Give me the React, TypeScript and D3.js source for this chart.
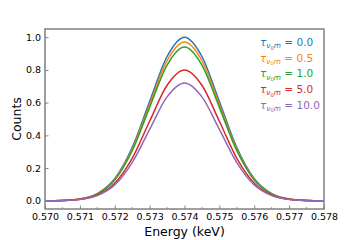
import * as d3 from "d3";
import { useEffect, useRef } from "react";

// energy grid (keV) and counts
const energy = [
  0.570, 0.5705, 0.571, 0.5715, 0.572, 0.5725, 0.573, 0.5735, 0.574,
  0.5745, 0.575, 0.5755, 0.576, 0.5765, 0.577, 0.5775, 0.578,
];
const tau00 = [0.000, 0.002, 0.011, 0.044, 0.135, 0.325, 0.607, 0.882, 1.000, 0.882, 0.607, 0.325, 0.135, 0.044, 0.011, 0.002, 0.000];
const tau05 = [0.000, 0.002, 0.011, 0.043, 0.131, 0.315, 0.589, 0.856, 0.970, 0.856, 0.589, 0.315, 0.131, 0.043, 0.011, 0.002, 0.000];
const tau10 = [0.000, 0.002, 0.010, 0.041, 0.127, 0.306, 0.571, 0.829, 0.940, 0.829, 0.571, 0.306, 0.127, 0.041, 0.010, 0.002, 0.000];
const tau50 = [0.000, 0.002, 0.009, 0.035, 0.108, 0.260, 0.486, 0.706, 0.800, 0.706, 0.486, 0.260, 0.108, 0.035, 0.009, 0.002, 0.000];
const tau100 = [0.000, 0.002, 0.008, 0.032, 0.097, 0.234, 0.437, 0.635, 0.720, 0.635, 0.437, 0.234, 0.097, 0.032, 0.008, 0.002, 0.000];

const tauLabels = ["0.0", "0.5", "1.0", "5.0", "10.0"];
const colors = ["#1f77b4", "#ff7f0e", "#2ca02c", "#d62728", "#9467bd"];
const seriesValues = [tau00, tau05, tau10, tau50, tau100];

const xTicks = [0.570, 0.571, 0.572, 0.573, 0.574, 0.575, 0.576, 0.577, 0.578];
const yTicks = [0.0, 0.2, 0.4, 0.6, 0.8, 1.0];

const W = 360;
const H = 240;
const margin = { top: 29, right: 36, bottom: 31, left: 45 };

export default function App() {
  const ref = useRef<SVGSVGElement>(null);

  useEffect(() => {
    const svg = d3.select(ref.current);
    svg.selectAll("*").remove();

    const x = d3.scaleLinear().domain([0.570, 0.578]).range([margin.left, W - margin.right]);
    const y = d3.scaleLinear().domain([-0.05, 1.05]).range([H - margin.bottom, margin.top]);
    const font = "'DejaVu Sans', sans-serif";
    const spine = "#808080";

    const line = d3
      .line<number>()
      .x((_, i) => x(energy[i]))
      .y((d) => y(d))
      .curve(d3.curveMonotoneX);

    seriesValues.forEach((vals, i) => {
      svg.append("path")
        .attr("d", line(vals))
        .attr("fill", "none")
        .attr("stroke", colors[i])
        .attr("stroke-width", 1.5);
    });

    // bottom axis, ticks inward
    const xAxis = d3.axisBottom(x)
      .tickValues(xTicks)
      .tickSize(-3.5)
      .tickPadding(4.5)
      .tickFormat(d3.format(".3f"));
    const gx = svg.append("g")
      .attr("transform", `translate(0, ${H - margin.bottom})`)
      .call(xAxis);
    gx.select(".domain").remove();
    gx.selectAll("line").attr("stroke", spine).attr("stroke-width", 1);
    gx.selectAll("text").attr("font-family", font).attr("font-size", 9.5).attr("fill", "#000");

    const minor = d3.range(0, 8).map((i) => 0.5705 + i * 0.001);
    svg.append("g")
      .selectAll("line")
      .data(minor)
      .join("line")
      .attr("x1", (d) => x(d))
      .attr("x2", (d) => x(d))
      .attr("y1", H - margin.bottom)
      .attr("y2", H - margin.bottom - 2)
      .attr("stroke", spine)
      .attr("stroke-width", 0.8);

    const yAxis = d3.axisLeft(y)
      .tickValues(yTicks)
      .tickSize(-3.5)
      .tickPadding(4)
      .tickFormat(d3.format(".1f"));
    const gy = svg.append("g")
      .attr("transform", `translate(${margin.left}, 0)`)
      .call(yAxis);
    gy.select(".domain").remove();
    gy.selectAll("line").attr("stroke", spine).attr("stroke-width", 1);
    gy.selectAll("text").attr("font-family", font).attr("font-size", 9.5).attr("fill", "#000");

    // spines
    svg.append("rect")
      .attr("x", margin.left)
      .attr("y", margin.top)
      .attr("width", W - margin.left - margin.right)
      .attr("height", H - margin.top - margin.bottom)
      .attr("fill", "none")
      .attr("stroke", spine)
      .attr("stroke-width", 1.5);

    svg.append("text")
      .attr("x", (margin.left + W - margin.right) / 2)
      .attr("y", 235.5)
      .attr("text-anchor", "middle")
      .attr("font-family", font)
      .attr("font-size", 12.5)
      .text("Energy (keV)");

    svg.append("text")
      .attr("transform", `translate(20.5, ${(margin.top + H - margin.bottom) / 2}) rotate(-90)`)
      .attr("text-anchor", "middle")
      .attr("font-family", font)
      .attr("font-size", 12.5)
      .text("Counts");

    // legend: coloured text only
    tauLabels.forEach((lab, i) => {
      const t = svg.append("text")
        .attr("x", 260)
        .attr("y", 45.8 + i * 15.7)
        .attr("font-family", font)
        .attr("font-size", 10.5)
        .attr("fill", colors[i]);
      t.append("tspan").attr("font-style", "italic").text("τ");
      t.append("tspan").attr("font-style", "italic").attr("font-size", 7.4).attr("dy", 2.5).text("ν");
      t.append("tspan").attr("font-size", 5.2).attr("dy", 1.2).text("0");
      t.append("tspan").attr("font-style", "italic").attr("font-size", 7.4).attr("dy", -1.2).text("m");
      t.append("tspan").attr("dy", -2.5).text(" = " + lab);
    });
  }, []);

  return (
    <svg
      ref={ref}
      width={W}
      height={H}
      style={{ position: "absolute", left: 0, top: 0, background: "#fff" }}
    />
  );
}
